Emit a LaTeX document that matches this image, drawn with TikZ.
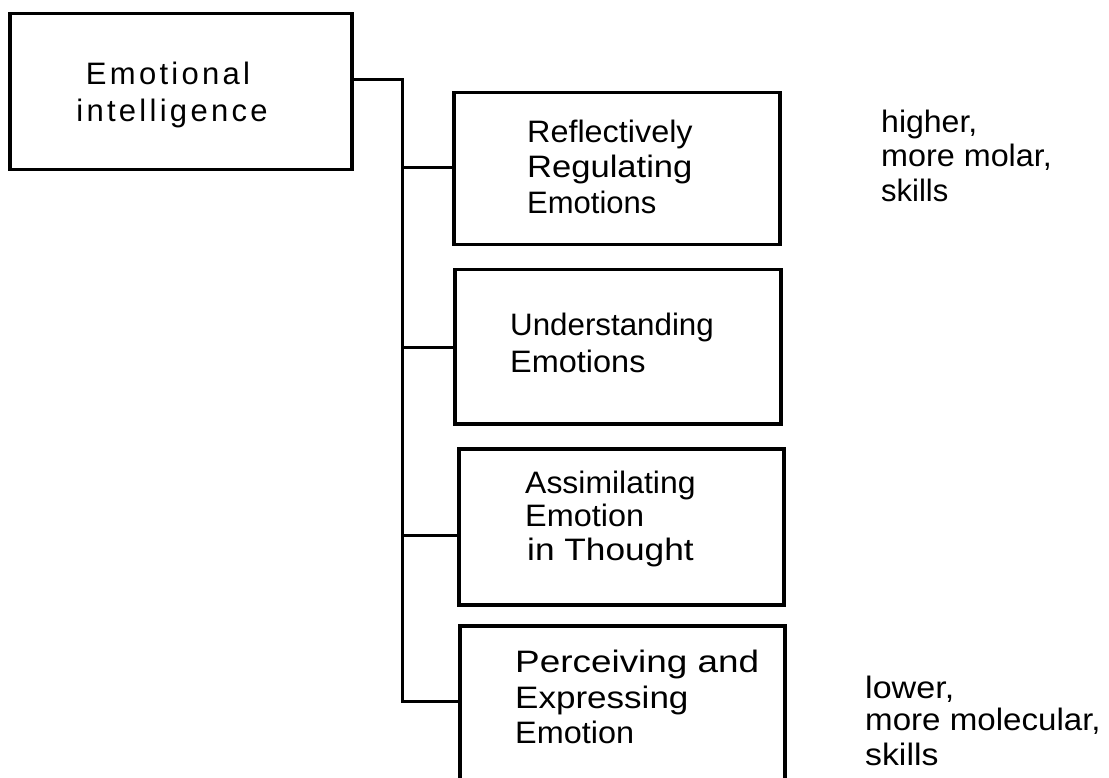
\documentclass[tikz,border=0pt]{standalone}
\usepackage{fontspec}
\setmainfont{Liberation Sans}
\begin{document}
\begin{tikzpicture}[x=1pt,y=-1pt,
  box/.style={draw, line width=3.5pt, inner sep=0pt, anchor=north west},
  link/.style={line width=3pt},
  lbl/.style={inner sep=0pt, anchor=base west, font=\fontsize{31}{36}\selectfont\addfontfeatures{FakeStretch=#1}},
  lbl/.default=1,
  clbl/.style={inner sep=0pt, anchor=base, font=\fontsize{31}{36}\selectfont\addfontfeatures{LetterSpace=#1}},
  clbl/.default=0]
\useasboundingbox (0,0) rectangle (1109,778);
\clip (0,0) rectangle (1109,778);
% boxes
\node[box, minimum width=342pt, minimum height=156pt] (ei) at (8,12) {};
\node[box, minimum width=326pt, minimum height=152pt] (b1) at (452,91) {};
\node[box, minimum width=326pt, minimum height=154pt] (b2) at (453,268) {};
\node[box, minimum width=325pt, minimum height=156pt] (b3) at (457,447) {};
\node[box, minimum width=325pt, minimum height=180pt] (b4) at (458,624) {};
% texts
\node[clbl=10.6] (t0a) at (168,85) {Emotional};
\node[clbl=10.6] (t0b) at (172,122) {intelligence};
\node[lbl=1.044] (t1a) at (527,143) {Reflectively};
\node[lbl=1.115] (t1b) at (527,178) {Regulating};
\node[lbl=1.0] (t1c) at (527,214) {Emotions};
\node[lbl=1.01] (t2a) at (510,335) {Understanding};
\node[lbl=1.047] (t2b) at (510,372) {Emotions};
\node[lbl=1.03] (t3a) at (525,493) {Assimilating};
\node[lbl=1.045] (t3b) at (525,526) {Emotion};
\node[lbl=1.137] (t3c) at (527,560) {in Thought};
\node[lbl=1.19] (t4a) at (515,672) {Perceiving and};
\node[lbl=1.13] (t4b) at (515,708) {Expressing};
\node[lbl=1.045] (t4c) at (515,743) {Emotion};
\node[lbl=1.033] (h1) at (881,133) {higher,};
\node[lbl=1.043] (h2) at (881,167) {more molar,};
\node[lbl=1.0] (h3) at (881,202) {skills};
\node[lbl=1.1] (l1) at (865,698) {lower,};
\node[lbl=1.068] (l2) at (865,730) {more molecular,};
\node[lbl=1.09] (l3) at (865,765) {skills};
% connectors
\coordinate (j0) at (402,80);
\coordinate (j1) at (402,168);
\coordinate (j2) at (402,347);
\coordinate (j3) at (402,535);
\coordinate (j4) at (402,701);
\draw[link] (ei.east |- j0) -- (j0) -- (j4) -- (j4 -| b4.west);
\draw[link] (j1) -- (j1 -| b1.west);
\draw[link] (j2) -- (j2 -| b2.west);
\draw[link] (j3) -- (j3 -| b3.west);
\end{tikzpicture}
\end{document}
